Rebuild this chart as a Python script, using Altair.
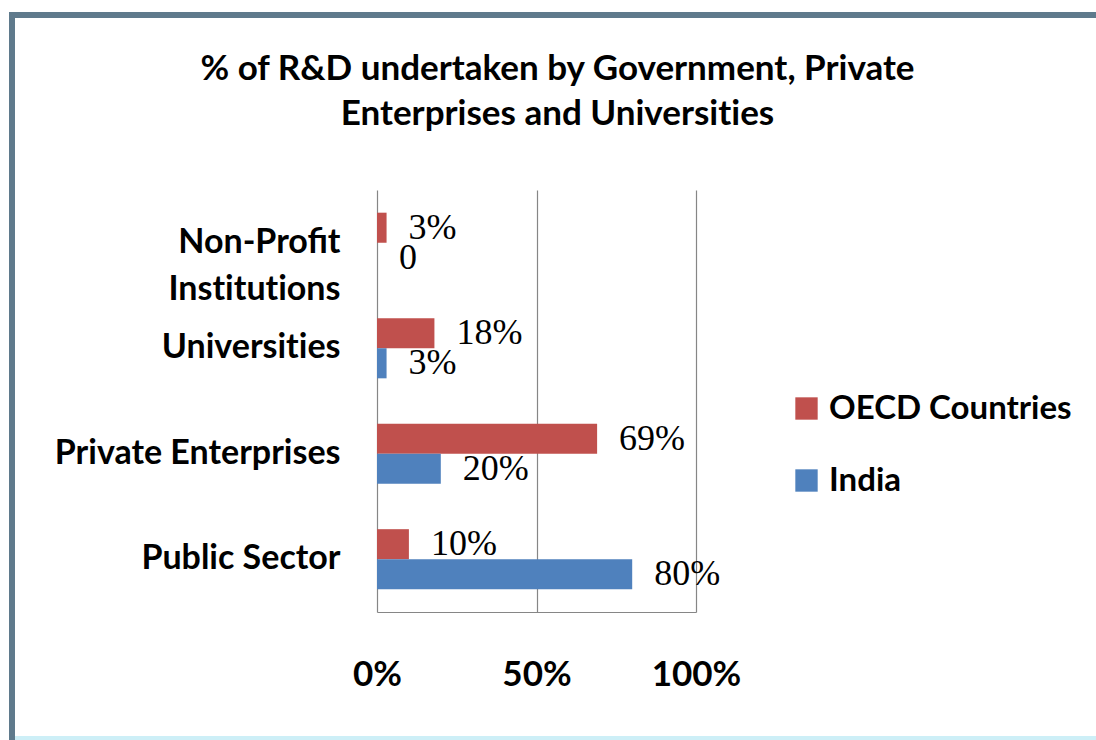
import altair as alt
import pandas as pd

categories = ["Non-Profit Institutions", "Universities", "Private Enterprises", "Public Sector"]
series = ["OECD Countries", "India"]
oecd_values = [3, 18, 69, 10]
india_values = [0, 3, 20, 80]
oecd_labels = ["3%", "18%", "69%", "10%"]
india_labels = ["0", "3%", "20%", "80%"]
x_ticks = [0, 50, 100]
colors = ["#C0504D", "#4F81BD"]
title_lines = ["% of R&D undertaken by Government, Private", "Enterprises and Universities"]

rows = []
for c, v, l in zip(categories, oecd_values, oecd_labels):
    rows.append({"category": c, "series": series[0], "value": v, "label": l})
for c, v, l in zip(categories, india_values, india_labels):
    rows.append({"category": c, "series": series[1], "value": v, "label": l})
df = pd.DataFrame(rows)

FONT = "Lato"
ZWNJ = "\u200c"
# break the Lato "ti" ligature with a zero-width non-joiner (invisible)
title_text = [t.replace("ti", "t" + ZWNJ + "i") for t in title_lines]

y_enc = alt.Y(
    "category:N",
    sort=categories,
    scale=alt.Scale(paddingInner=0.43, paddingOuter=0.215),
    axis=alt.Axis(
        title=None, domain=False, ticks=False, labelPadding=37,
        labelFont=FONT, labelFontWeight="bold", labelFontSize=34,
        labelColor="#000000", labelLineHeight=47, labelLimit=400,
        labelExpr=(
            "datum.label == 'Non-Profit Institutions' ? "
            "['Non-Profit', 'Inst" + ZWNJ + "itut" + ZWNJ + "ions'] : "
            "(datum.label == 'Universities' ? 'Universit" + ZWNJ + "ies' : datum.label)"
        ),
    ),
)
x_enc = alt.X(
    "value:Q",
    scale=alt.Scale(domain=[0, 100]),
    axis=alt.Axis(
        title=None, values=x_ticks, ticks=False, grid=True, labelFlush=False,
        gridColor="#868686", gridWidth=1.2, domainColor="#868686", domainWidth=1.2,
        labelFont=FONT, labelFontWeight="bold", labelFontSize=35, labelColor="#000000",
        labelPadding=45, labelExpr="datum.value + '%'",
    ),
)
yoff = alt.YOffset("series:N", sort=series)

bars = alt.Chart(df).mark_bar().encode(
    y=y_enc,
    x=x_enc,
    yOffset=yoff,
    color=alt.Color(
        "series:N",
        sort=series,
        scale=alt.Scale(domain=series, range=colors),
        legend=alt.Legend(
            title=None, orient="none", legendX=413, legendY=202,
            symbolType="square", symbolSize=500, symbolStrokeWidth=0,
            labelFont=FONT, labelFontWeight="bold", labelFontSize=33,
            labelColor="#000000", labelOffset=6, rowPadding=38, labelLimit=400,
        ),
    ),
)

labels = alt.Chart(df).mark_text(
    align="left", baseline="middle", dx=22,
    font="Liberation Serif", fontSize=36, color="#000000",
).encode(
    y=alt.Y("category:N", sort=categories),
    x=alt.X("value:Q"),
    yOffset=yoff,
    text="label:N",
)

frame_data = alt.Data(values=[{"k": 1}])
top_border = alt.Chart(frame_data).mark_rule(color="#5F7A8C", strokeWidth=6).encode(
    x=alt.value(-368), x2=alt.value(719), y=alt.value(-175)
)
left_border = alt.Chart(frame_data).mark_rule(color="#5F7A8C", strokeWidth=6).encode(
    x=alt.value(-365), y=alt.value(-178), y2=alt.value(550)
)
bottom_line = alt.Chart(frame_data).mark_rule(color="#CDEFF7", strokeWidth=4).encode(
    x=alt.value(-362), x2=alt.value(719), y=alt.value(548)
)

chart = alt.layer(bars, labels, top_border, left_border, bottom_line).properties(
    width=319,
    height=422,
    autosize=alt.AutoSizeParams(type="none"),
    padding={"left": 377, "top": 190, "right": 400, "bottom": 128},
    background="#FFFFFF",
    title=alt.TitleParams(
        text=title_text,
        font=FONT, fontWeight="bold", fontSize=35, color="#000000",
        anchor="middle", frame="group", dx=21, dy=123, lineHeight=45, offset=0,
    ),
).configure_view(stroke=None)

chart.save("out.html", embed_options={"renderer": "svg", "actions": False})
